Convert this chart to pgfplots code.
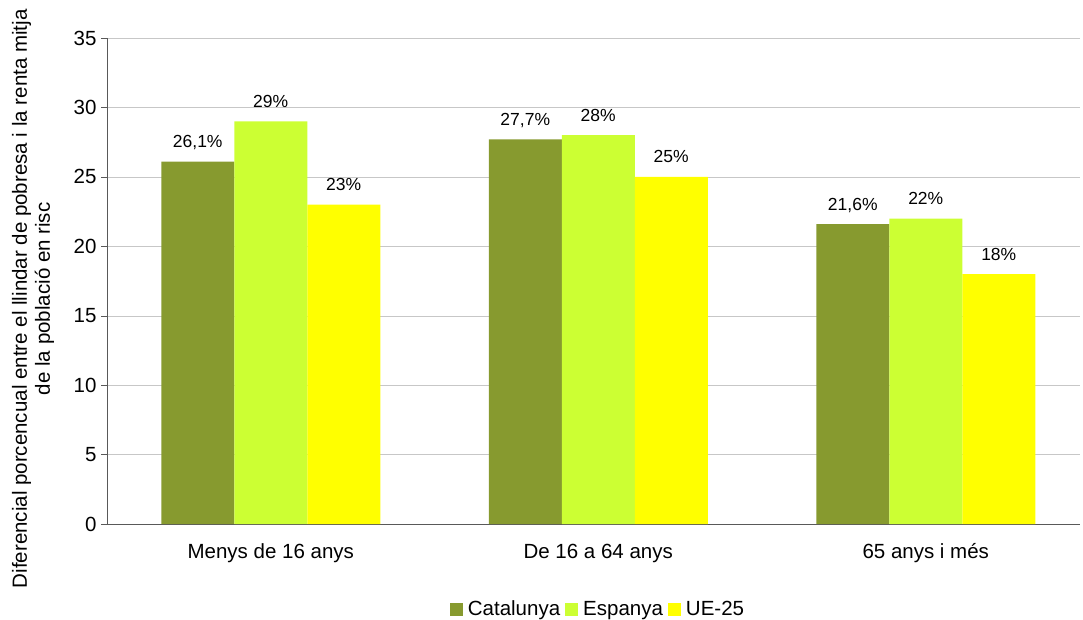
\documentclass[border=0pt]{standalone}
\usepackage{fontspec}
\setmainfont{Liberation Sans}
\usepackage{pgfplots}
\pgfplotsset{compat=1.18}
\usepackage{pgfplotstable}
\definecolor{cat}{HTML}{879A2F}
\definecolor{esp}{HTML}{CCFF33}
\definecolor{ue}{HTML}{FFFF00}
\pgfplotstableread{
x y l
0 26.1 26,1\%
1 27.7 27,7\%
2 21.6 21,6\%
}\tcat
\pgfplotstableread{
x y l
0 29 29\%
1 28 28\%
2 22 22\%
}\tesp
\pgfplotstableread{
x y l
0 23 23\%
1 25 25\%
2 18 18\%
}\tue
\begin{document}
\begin{tikzpicture}
\useasboundingbox (0,0) rectangle (1083pt,619pt);
\begin{axis}[
  at={(107pt,95pt)}, anchor=south west,
  scale only axis, width=973pt, height=486pt,
  xmin=-0.5, xmax=2.471, ymin=0, ymax=35,
  ytick={0,5,...,35},
  xtick={0,1,2},
  xticklabels={Menys de 16 anys, De 16 a 64 anys, 65 anys i més},
  extra x ticks={0.5,1.5},
  extra x tick labels={},
  extra x tick style={major tick length=6pt, grid=none},
  major tick length=6pt,
  x tick style={draw=none},
  y tick style={black!65},
  tick align=outside,
  axis x line*=bottom, axis y line*=left,
  axis line style={black!65},
  ymajorgrids, grid style={black!22},
  /pgf/number format/assume math mode=true,
  tick label style={font=\fontsize{20.5}{24}\selectfont},
  yticklabel style={xshift=-1pt},
  xticklabel style={anchor=base, yshift=-28pt},
  ylabel={Diferencial porcencual entre el llindar de pobresa i la renta mitja\\de la població en risc},
  ylabel style={at={(rel axis cs:-0.076,0.4635)}, anchor=center, align=center, font=\fontsize{20.5}{23}\selectfont},
  bar width=73pt,
  ybar,
  nodes near coords,
  point meta=explicit symbolic,
  every node near coord/.append style={font=\fontsize{17.5}{20}\selectfont, anchor=base, yshift=14pt, black},
  legend columns=3,
  legend style={at={(rel axis cs:0.5046,-0.175)}, anchor=center, draw=none, fill=none,
    font=\fontsize{20.5}{24}\selectfont, column sep=3pt, nodes={inner xsep=2pt}},
  legend image code/.code={\fill[#1] (0pt,-6.5pt) rectangle (13pt,6.5pt);},
]
\addplot[fill=cat, draw=none, bar shift=-73pt] table[x=x,y=y,meta=l] {\tcat};
\addplot[fill=esp, draw=none, bar shift=0pt] table[x=x,y=y,meta=l] {\tesp};
\addplot[fill=ue, draw=none, bar shift=73pt] table[x=x,y=y,meta=l] {\tue};
\legend{Catalunya, Espanya, UE-25}
\end{axis}
\end{tikzpicture}
\end{document}
